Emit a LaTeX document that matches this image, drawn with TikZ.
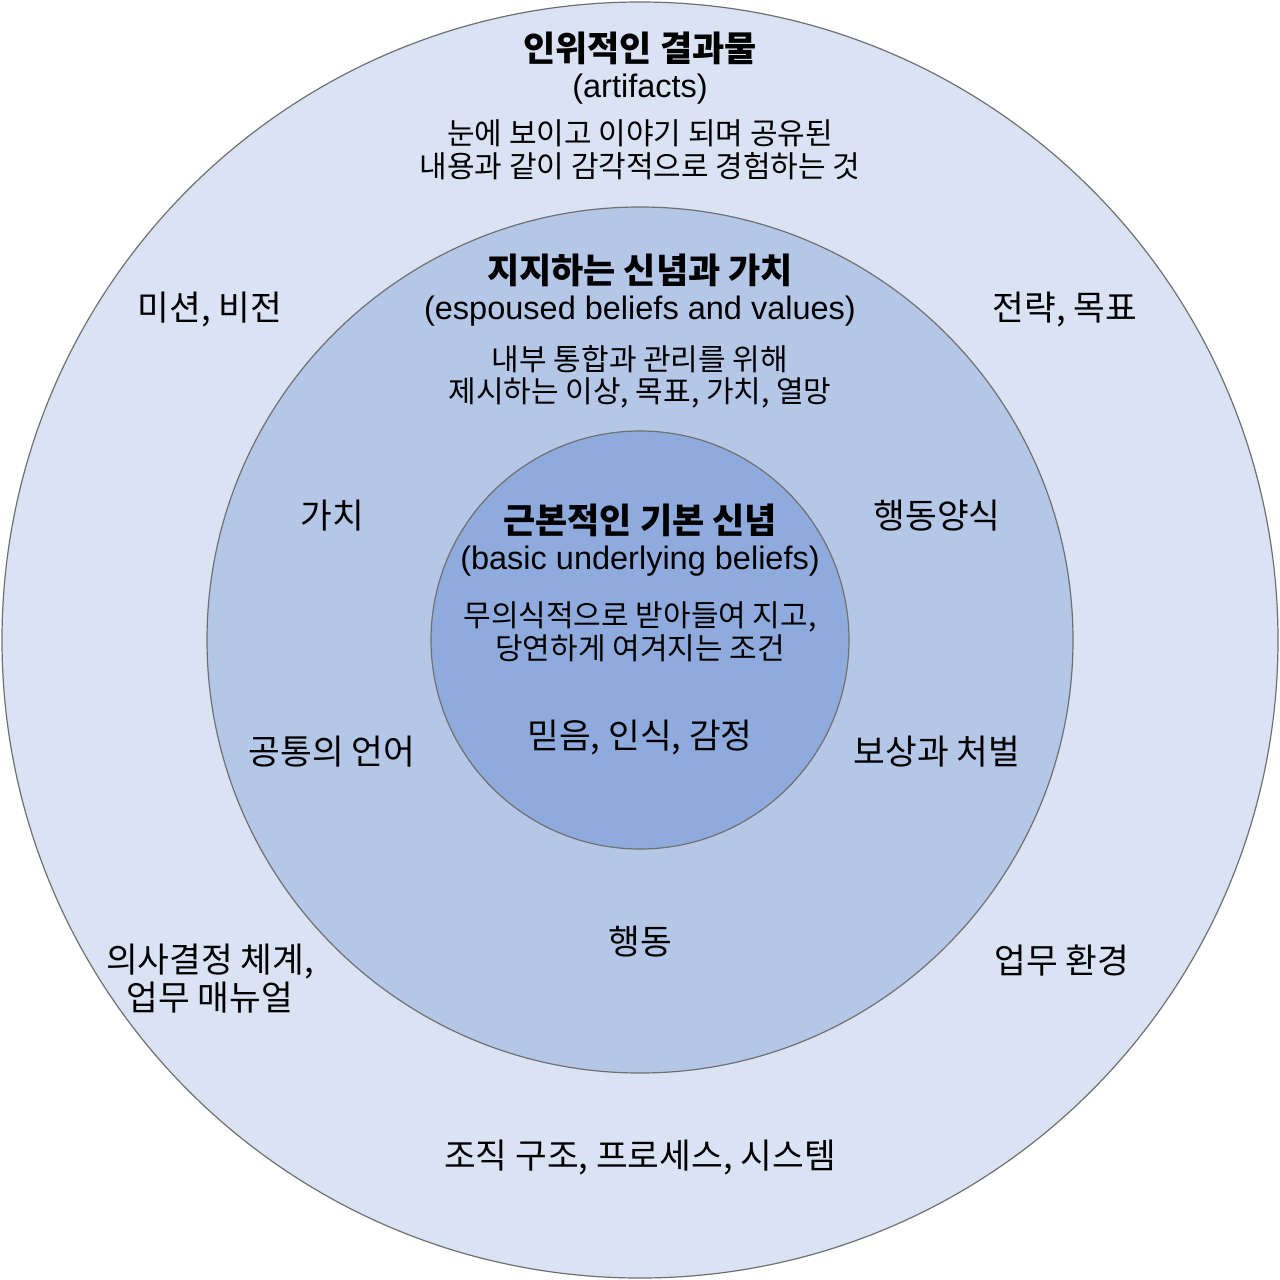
\documentclass[tikz,border=0pt]{standalone}
\usepackage{fontspec}
\setmainfont{Liberation Sans}
\newfontfamily\kr{Noto Sans CJK KR}
\definecolor{outerc}{HTML}{DAE3F3}
\definecolor{midc}{HTML}{B4C7E7}
\definecolor{innerc}{HTML}{8FAADC}
\definecolor{edgec}{HTML}{707070}
\begin{document}
\begin{tikzpicture}[x=1pt,y=-1pt,
  ring/.style={circle, draw=edgec, line width=1.2pt, inner sep=0pt},
  title/.style={font=\kr\bfseries\fontsize{35}{40}\selectfont, inner sep=0pt},
  eng/.style={font=\fontsize{32.5}{38}\selectfont, inner sep=0pt},
  body/.style={font=\kr\fontsize{30}{32.5}\selectfont, inner sep=0pt, align=center},
  item/.style={font=\kr\fontsize{34.5}{38}\selectfont, inner sep=0pt, align=center}]
\useasboundingbox (0,0) rectangle (1280,1280);
\node[ring, fill=outerc, minimum size=1276pt] (outer) at (640,640) {};
\node[ring, fill=midc, minimum size=866pt] (mid) at (640,640) {};
\node[ring, fill=innerc, minimum size=418pt] (inner) at (640,640) {};
% outer ring
\node[title] (t1) at (640,48) {인위적인 결과물};
\node[eng] (e1) at (640,89) {(artifacts)};
\node[body] (b1) at (640,150) {눈에 보이고 이야기 되며 공유된\\내용과 같이 감각적으로 경험하는 것};
\node[item] (o1) at (210,310) {미션, 비전};
\node[item] (o2) at (1065,310) {전략, 목표};
\node[item] (o3) at (210,979) {의사결정 체계,\\업무 매뉴얼};
\node[item] (o4) at (1062,960) {업무 환경};
\node[item] (o5) at (640,1157) {조직 구조, 프로세스, 시스템};
% middle ring
\node[title] (t2) at (640,270) {지지하는 신념과 가치};
\node[eng] (e2) at (640,311) {(espoused beliefs and values)};
\node[body] (b2) at (640,377) {내부 통합과 관리를 위해\\제시하는 이상, 목표, 가치, 열망};
\node[item] (m1) at (332,516) {가치};
\node[item] (m2) at (937,516) {행동양식};
\node[item] (m3) at (332,752) {공통의 언어};
\node[item] (m4) at (937,752) {보상과 처벌};
\node[item] (m5) at (640,942) {행동};
% inner circle
\node[title] (t3) at (640,520) {근본적인 기본 신념};
\node[eng] (e3) at (640,561) {(basic underlying beliefs)};
\node[body] (b3) at (640,632) {무의식적으로 받아들여 지고,\\당연하게 여겨지는 조건};
\node[item] (i1) at (640,738) {믿음, 인식, 감정};
\end{tikzpicture}
\end{document}
